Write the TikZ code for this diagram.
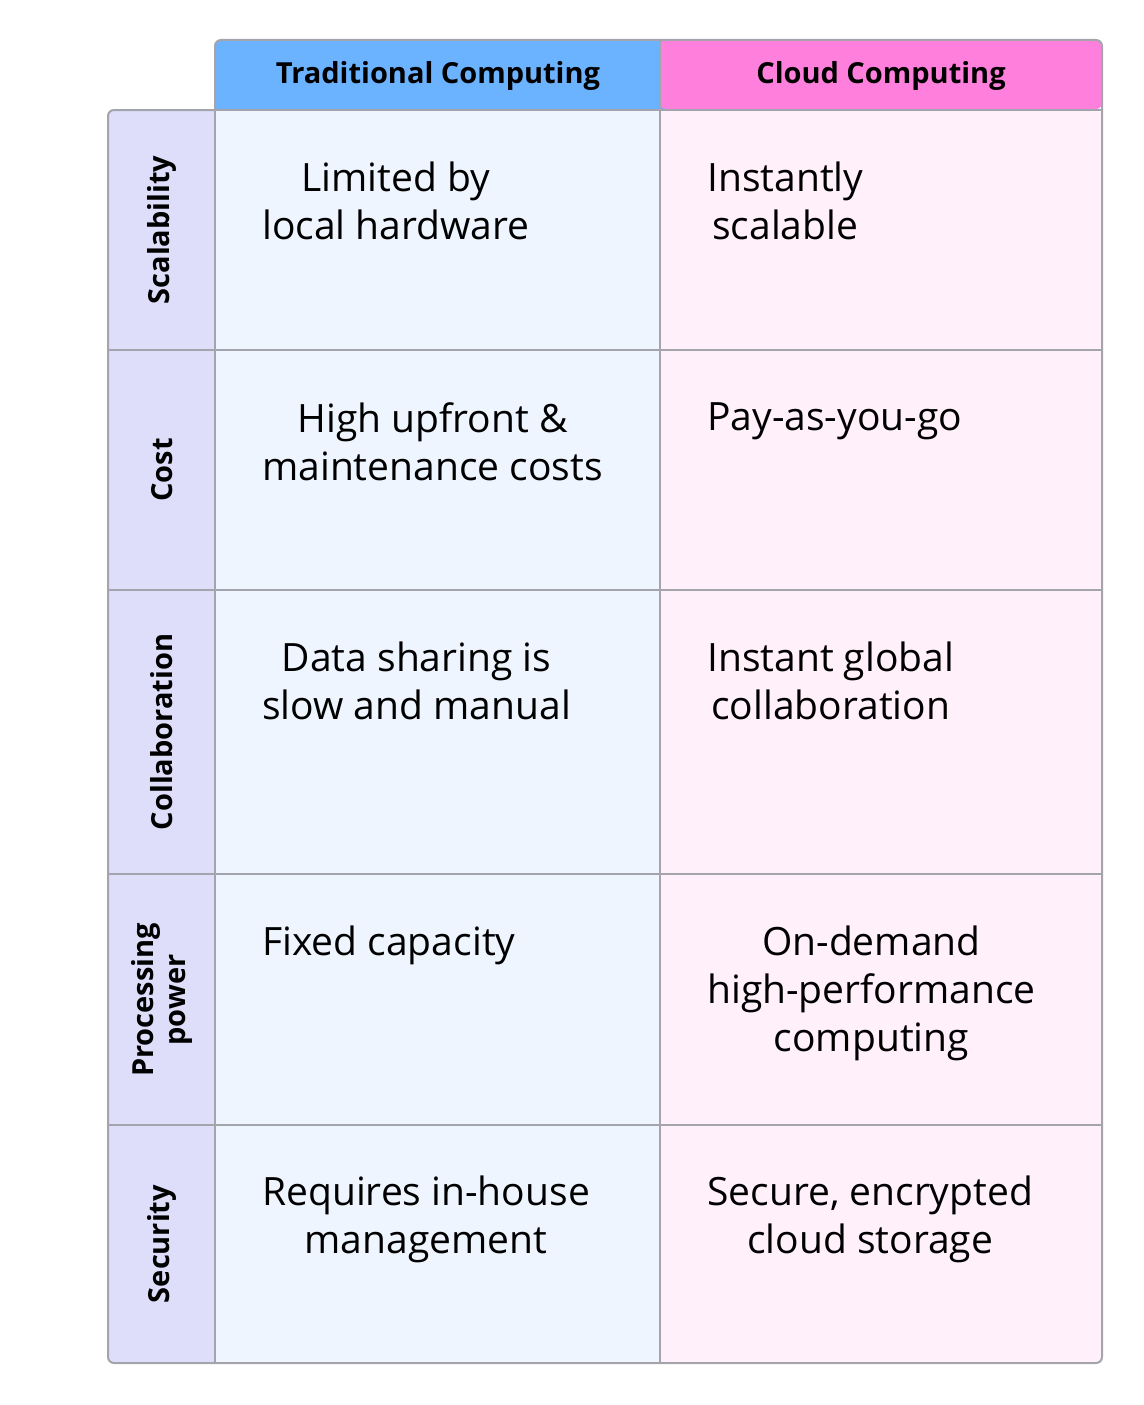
\documentclass[tikz,border=0pt]{standalone}
\usepackage{fontspec}
\setmainfont{Open Sans}
\definecolor{hblue}{HTML}{6BB3FF}
\definecolor{hpink}{HTML}{FF7FDD}
\definecolor{cblue}{HTML}{EEF5FF}
\definecolor{cpink}{HTML}{FFF0FA}
\definecolor{lav}{HTML}{DEDEFA}
\definecolor{bord}{HTML}{A4A4AC}
\begin{document}
\begin{tikzpicture}[x=1pt,y=-1pt,
  bordline/.style={draw=bord,line width=2pt},
  cell/.style={anchor=north west,align=center,font=\fontsize{39}{48}\selectfont,inner sep=0pt},
  head/.style={font=\bfseries\fontsize{29}{30}\selectfont},
  rowlab/.style={rotate=90,align=center,font=\bfseries\fontsize{29}{32}\selectfont}]
\useasboundingbox (0,0) rectangle (1143,1405);
\fill[hblue,rounded corners=6pt] (215,40) rectangle (680,109);
\fill[hpink,rounded corners=6pt] (660,40) rectangle (1102,109);
\fill[hblue] (215,60) rectangle (660,109);
\fill[lav,rounded corners=6pt] (108,110) rectangle (240,1363);
\fill[cblue] (215,110) rectangle (660,1363);
\fill[cpink] (660,110) rectangle (1102,1363);
\draw[bordline,rounded corners=6pt] (215,109) -- (215,40) -- (1102,40) -- (1102,1363) -- (108,1363) -- (108,110) -- (215,110);
\draw[bordline] (215,110) -- (215,1363) (660,40) -- (660,1363) (215,109.5) -- (1102,109.5);
\foreach \y in {350,590,874,1125} \draw[bordline] (108,\y) -- (1102,\y);
\node[head] (h1) at (438,76) {Traditional Computing};
\node[head] (h2) at (881,76) {Cloud Computing};
\node[rowlab] (r1) at (162,230) {Scalability};
\node[rowlab] (r2) at (162,470) {Cost};
\node[rowlab] (r3) at (162,732) {Collaboration};
\node[rowlab] (r4) at (162,1000) {Processing\\power};
\node[rowlab] (r5) at (162,1244) {Security};
\node[cell] (a1) at (262,162) {Limited by\\local hardware};
\node[cell] (b1) at (707,162) {Instantly\\scalable};
\node[cell] (a2) at (262,402) {High upfront \&\\maintenance costs};
\node[cell] (b2) at (707,402) {Pay-as-you-go};
\node[cell] (a3) at (262,642) {Data sharing is\\slow and manual};
\node[cell] (b3) at (707,642) {Instant global\\collaboration};
\node[cell] (a4) at (262,926) {Fixed capacity};
\node[cell] (b4) at (707,926) {On-demand\\high-performance\\computing};
\node[cell] (a5) at (262,1176) {Requires in-house\\management};
\node[cell] (b5) at (707,1176) {Secure, encrypted\\cloud storage};
\end{tikzpicture}
\end{document}
